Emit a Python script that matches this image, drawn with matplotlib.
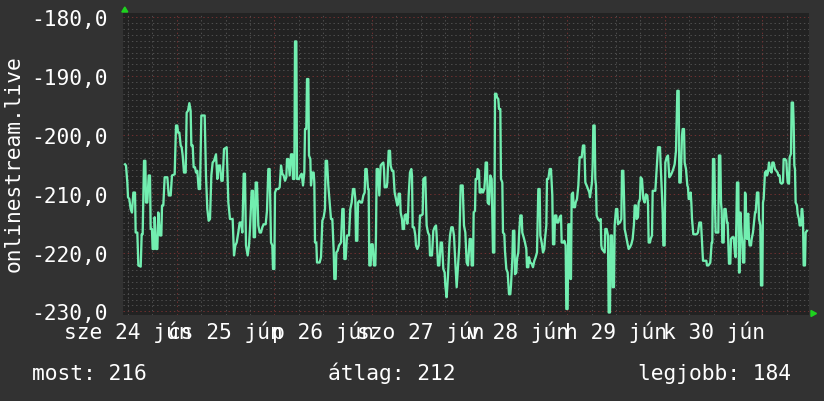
import matplotlib.pyplot as plt
from matplotlib.patches import Polygon

# hours since 25 Jun 00:00 and the value at each vertex
hours = [
    -12.71, -12.47, -12.14, -11.97, -11.65, -11.32, -10.99, -10.66, -10.25, -10.09, -9.68, -9.43, -8.85, -8.61,
    -8.37, -8.04, -7.71, -7.55, -7.22, -6.89, -6.57, -6.40, -6.08, -5.92, -5.58, -5.42, -5.09, -4.76, -4.52,
    -4.11, -3.78, -3.61, -3.29, -2.96, -2.30, -1.96, -1.48, -1.16, -0.50, -0.17, 0.15, 0.32, 0.65, 0.98, 1.22,
    1.47, 1.79, 2.21, 2.45, 2.78, 3.11, 3.43, 3.60, 3.93, 4.17, 4.50, 4.75, 5.07, 5.40, 5.73, 6.06, 6.88, 7.20,
    7.53, 7.86, 8.19, 8.52, 8.84, 9.17, 9.66, 9.99, 10.32, 10.65, 10.98, 11.30, 11.63, 12.29, 12.70, 13.10,
    13.76, 14.09, 14.42, 14.75,
    15.15, 15.48, 15.81, 16.14, 16.47, 16.79, 17.04, 17.45, 17.78, 18.02, 18.43, 18.76, 18.93, 19.25, 19.42,
    19.74, 20.07, 20.40, 20.73, 21.06, 21.38, 21.88, 22.20, 22.53, 22.86, 23.19, 23.51, 23.68, 24.01, 24.17,
    24.50, 24.99, 25.32, 25.65, 25.97, 26.30, 26.63, 26.96, 27.12, 27.45, 27.78, 28.10, 28.43, 28.60, 28.92,
    29.09, 29.42, 29.58, 30.07, 30.40, 30.73, 31.06, 31.38, 31.55, 31.87, 32.04, 32.37, 32.53, 32.86, 33.02,
    33.35, 33.68, 33.84, 34.01, 34.33, 34.50, 35.15, 35.48, 35.81, 36.14, 36.46, 36.63, 36.96, 37.28, 37.61,
    37.94, 38.27, 38.60, 38.76, 39.09, 39.25, 39.58, 39.91, 40.40, 40.73, 41.05, 41.22, 41.55, 41.87, 42.37,
    42.69, 43.02, 43.35, 43.68,
    43.92, 44.09, 44.41, 44.58, 44.91, 45.23, 45.56, 45.89, 46.22, 46.38, 46.71, 46.87, 47.04, 47.20, 47.36,
    47.69, 47.86, 48.19, 48.35, 48.51, 48.84, 49.00, 49.17, 49.50, 49.82, 50.15, 50.48, 50.81, 50.97, 51.14,
    51.63, 51.79, 52.12, 52.45, 52.61, 52.94, 53.27, 53.59, 53.92, 54.25, 54.41, 54.58, 54.90, 55.07, 55.40,
    55.56, 55.89, 56.05, 56.38, 56.71, 56.87, 57.04, 57.36, 57.69, 57.86, 58.02, 58.35, 58.68, 58.84, 59.17,
    59.50, 59.82, 60.15, 60.48, 60.64, 61.13, 61.46, 61.79, 62.12, 62.28, 62.77, 63.10, 63.43, 63.76, 63.92,
    64.25, 64.58, 64.91, 65.23, 65.56, 65.89, 66.05, 66.38, 66.71, 67.04, 67.20, 67.53, 67.86, 68.18, 68.51,
    68.84, 69.17, 69.49, 69.82, 70.32, 70.64, 70.97, 71.30, 71.63, 71.95,
    72.04, 72.36, 72.53, 72.86, 73.02, 73.35, 73.51, 73.84, 74.00, 74.33, 74.50, 74.82, 74.99, 75.31, 75.64,
    75.81, 75.97, 76.30, 76.46, 76.79, 76.95, 77.12, 77.45, 77.61, 77.77, 78.10, 78.27, 78.59, 78.76, 79.08,
    79.25, 79.58, 79.74, 80.07, 80.23, 80.56, 80.72, 81.05, 81.38, 81.54, 81.71, 82.03, 82.20, 82.53, 82.69,
    83.02, 83.18, 83.51, 83.67, 84.00, 84.17, 84.49, 84.82, 84.98, 85.31, 85.64, 85.97, 86.13, 86.46, 86.62,
    86.95, 87.28, 87.61, 87.94, 88.26, 88.59, 88.92, 89.25, 89.41, 89.74, 90.07, 90.39, 90.56, 90.89, 91.05,
    91.38, 91.71, 92.03, 92.36, 92.53, 92.85, 93.02, 93.34, 93.51, 93.84, 94.17, 94.49, 94.66, 95.15, 95.31,
    95.64, 95.80, 96.13, 96.29, 96.62, 96.79, 96.95, 97.12, 97.44, 97.61, 97.94, 98.10, 98.43, 98.76, 99.08,
    99.58, 99.90, 100.23,
    100.48, 100.80, 101.13, 101.46, 101.62, 101.95, 102.11, 102.28, 102.44, 102.77, 102.93, 103.10, 103.26,
    103.59, 103.92, 104.25, 104.41, 104.57, 104.90, 105.23, 105.39, 105.72, 106.05, 106.21, 106.54, 106.71,
    107.03, 107.20, 107.52, 107.69, 108.02, 108.34, 108.51, 108.84, 109.00, 109.33, 109.49, 109.82, 109.98,
    110.15, 110.48, 110.80, 111.13, 111.46, 111.79, 112.11, 112.44, 112.61, 112.93, 113.10, 113.43, 113.59,
    113.92, 114.08, 114.41, 114.57, 114.74, 115.07, 115.39, 115.72, 115.89, 116.05, 116.38, 116.54, 116.87,
    117.04, 117.69, 118.02, 118.35, 118.84, 119.00, 119.33, 119.49, 119.66, 119.98, 120.15, 120.48, 120.80,
    121.13, 121.46, 121.79, 122.11, 122.44, 122.77, 123.10, 123.43, 123.59, 123.92, 124.08, 124.25, 124.41,
    124.74, 124.90, 125.23, 125.56, 125.72, 125.89, 126.21, 126.38, 126.54, 126.71, 127.03, 127.85, 128.18,
    128.51,
    128.92, 129.08, 129.41, 130.23, 130.39, 130.72, 131.05, 131.21, 131.54, 131.70, 131.87, 132.19, 132.36,
    132.53, 133.18, 133.34, 133.67, 133.84, 134.00, 134.16, 134.49, 134.65, 134.98, 135.31, 135.47, 135.64,
    135.80, 136.13, 136.29, 136.62, 136.95, 137.28, 137.44, 137.60, 137.77, 138.10, 138.26, 138.42, 138.59,
    138.92, 139.08, 139.25, 139.57, 139.74, 139.90, 140.06, 140.23, 140.39, 140.56, 140.72, 140.88, 141.21,
    141.38, 141.70, 142.03, 142.20, 142.36, 142.69, 143.02, 143.18, 143.51, 143.67, 144.00, 144.16, 144.33,
    144.49, 144.65, 144.98, 145.14, 145.31, 145.47, 145.64, 145.96, 146.29, 146.46, 146.78, 147.11, 147.44,
    147.77, 147.93, 148.26, 148.42, 148.75, 149.08, 149.24, 149.57, 149.90, 150.06, 150.23, 150.56, 150.72,
    151.05, 151.21, 151.54, 151.70, 151.87, 152.03, 152.19, 152.52, 152.68, 153.01, 153.18, 153.50, 153.67,
    153.83, 154.00, 154.16, 154.49, 154.65, 154.98,
]
values = [
    -205.0, -205.2, -208.1, -210.6, -210.9, -212.6, -213.2, -209.8, -209.8, -216.6, -216.6, -222.2, -222.4, -216.9,
    -216.9, -204.4, -204.4, -211.5, -211.5, -206.9, -206.9, -216.0, -216.0, -219.4, -219.4, -214.0, -219.4, -219.4, -213.2,
    -217.1, -217.1, -212.0, -212.0, -207.2, -207.2, -210.3, -210.3, -206.9, -206.7, -198.4, -198.4, -199.6, -199.6, -201.8, -202.1,
    -203.5, -206.4, -206.4, -196.2, -195.9, -194.6, -195.9, -201.8, -201.8, -205.5, -205.5, -206.4, -206.1, -209.2, -209.2, -196.7, -196.7, -206.9,
    -212.6, -214.6, -214.3, -206.9, -204.7, -204.4, -203.3, -207.5, -205.2, -205.2, -207.8, -207.8, -202.4, -202.1, -211.5, -214.3,
    -214.3, -220.5, -218.8, -218.3,
    -216.6, -214.9, -214.9, -216.6, -206.6, -206.6, -218.8, -220.5, -218.8, -216.0, -209.5, -209.5, -217.4, -217.4, -208.1,
    -208.1, -215.4, -216.6, -216.6, -215.7, -215.2, -215.2, -212.9, -205.8, -205.8, -218.3, -218.8, -222.8, -222.8, -209.8,
    -209.2, -209.2, -208.9, -205.2, -206.6, -206.9, -207.8, -207.2, -204.1, -204.1, -206.9, -203.3, -203.3, -207.5, -207.5,
    -184.1, -184.1, -207.5, -207.5, -206.9, -206.6, -208.6, -206.4, -199.0, -199.0, -190.5, -190.5, -203.5, -204.1, -208.6,
    -206.4, -206.4, -208.1, -218.3, -218.3, -221.7, -221.7, -220.8, -214.6, -214.0, -212.6, -204.4, -204.4, -208.6, -211.5,
    -214.3, -214.3, -219.7, -224.5, -224.5, -220.0, -219.7, -218.8, -218.3, -212.6, -212.6, -221.1, -221.1, -217.1, -217.1,
    -212.6, -211.5, -209.2, -209.2,
    -210.9, -218.0, -218.0, -211.5, -211.2, -211.5, -211.5, -210.3, -209.8, -205.8, -205.8, -207.5, -209.2, -209.2, -222.2,
    -222.2, -218.6, -218.6, -220.5, -222.2, -222.2, -217.1, -205.8, -205.8, -210.3, -205.2, -204.9, -204.7, -205.8, -208.9,
    -208.9, -208.1, -202.7, -202.7, -205.2, -206.1, -206.1, -209.8, -210.9, -212.0, -211.5, -210.0, -210.0, -213.2, -214.3,
    -216.0, -216.0, -213.7, -213.5, -215.1, -214.0, -210.3, -206.4, -205.8, -206.9, -215.7, -215.7, -217.1, -218.8, -219.4,
    -218.8, -213.7, -213.7, -213.5, -207.5, -207.2, -215.4, -216.6, -217.1, -220.5, -220.5, -216.3, -215.7, -215.4, -217.1,
    -222.2, -222.2, -218.3, -218.3, -222.8, -223.4, -225.6, -227.6, -223.9, -218.8, -217.1, -215.7, -215.7, -217.1, -221.7,
    -225.9, -222.2, -218.8, -208.6, -208.6, -215.4, -216.6, -221.7, -222.2, -218.8,
    -217.7, -217.7, -222.2, -222.2, -213.2, -212.9, -207.5, -207.5, -205.8, -206.1, -209.8, -209.8, -209.2, -209.8, -209.2,
    -207.5, -204.7, -204.7, -211.5, -211.8, -209.5, -206.9, -207.5, -214.3, -220.0, -220.0, -193.0, -193.0, -193.6, -193.9,
    -195.6, -195.6, -207.5, -208.1, -216.6, -216.9, -219.7, -222.8, -223.4, -225.1, -227.1, -227.1, -225.6, -221.1, -216.3,
    -216.3, -223.7, -223.4, -221.1, -220.0, -217.1, -213.7, -213.7, -216.6, -217.4, -218.3, -219.4, -222.5, -222.5, -220.8,
    -221.7, -221.9, -222.5, -221.4, -220.8, -220.0, -209.2, -209.2, -217.1, -218.3, -220.0, -219.4, -217.7, -215.4, -207.5,
    -207.5, -205.8, -205.8, -210.3, -218.6, -218.6, -213.7, -213.7, -214.9, -214.9, -214.0, -213.7, -218.3, -218.3, -218.0,
    -218.8, -229.6, -229.6, -215.2, -215.2, -224.5, -224.5, -210.1, -209.8, -212.3, -212.3, -211.5, -210.9, -208.6, -203.8,
    -203.8, -201.8, -201.8,
    -208.1, -208.6, -209.2, -209.8, -210.6, -208.9, -208.1, -205.2, -198.4, -198.4, -207.5, -208.6, -213.7,
    -214.3, -214.6, -214.3, -218.8, -219.4, -219.7, -220.0, -216.0, -216.0, -217.1, -230.2, -230.2, -217.1,
    -217.1, -225.9, -225.9, -215.4, -212.6, -212.6, -215.2, -214.9, -214.9, -214.3, -206.1, -206.1, -210.3,
    -216.0, -217.1, -218.3, -219.4, -219.1, -218.6, -217.7, -215.2, -212.0, -212.0, -214.3, -214.0, -211.5,
    -210.9, -207.2, -207.5, -209.2, -210.9, -211.5, -210.1, -210.3, -211.8, -218.3, -218.3, -217.7, -217.1,
    -209.5, -209.5, -205.8, -202.1, -202.1, -205.2, -210.3, -213.2, -218.8, -218.8, -204.7, -203.8, -203.5,
    -207.2, -206.9, -206.4, -205.8, -205.0, -202.7, -192.5, -192.5, -208.1, -208.1, -204.4, -200.1, -199.0,
    -199.0, -204.7, -205.8, -208.6, -208.9, -210.9, -210.9, -209.8, -211.5, -214.3, -216.9, -216.9, -216.6,
    -214.9,
    -214.9, -217.1, -221.4, -221.4, -222.2, -222.2, -221.9, -221.7, -218.3, -218.3, -204.1, -204.1, -212.0,
    -216.6, -216.6, -203.5, -203.5, -211.5, -212.9, -218.3, -218.3, -212.6, -212.6, -214.9, -214.9, -218.3,
    -221.9, -221.9, -217.7, -217.4, -217.4, -220.3, -220.8, -215.4, -208.1, -208.1, -223.4, -223.4, -213.2,
    -217.1, -218.3, -221.7, -221.7, -209.8, -210.1, -215.4, -217.7, -213.7, -213.4, -217.7, -218.8, -218.8,
    -217.7, -216.6, -214.3, -213.2, -213.2, -209.8, -209.8, -214.3, -215.4, -225.6, -225.6, -211.5, -210.9,
    -208.6, -206.4, -206.1, -206.9, -206.6, -205.8, -204.7, -206.1, -206.4, -204.7, -204.7, -205.8, -206.1,
    -206.4, -206.9, -206.9, -208.1, -208.3, -208.1, -204.1, -204.1, -204.4, -206.4, -208.1, -208.3, -203.8,
    -203.2, -194.5, -194.5, -197.9, -205.2, -205.8, -211.5, -212.0, -213.4, -214.3, -215.4, -215.4, -212.6,
    -212.6, -214.3, -222.2, -222.2, -216.6, -216.3,
]

day_labels = ["sze 24 jún", "cs 25 jún", "p 26 jún", "szo 27 jún", "v 28 jún", "h 29 jún", "k 30 jún"]
label_hours = [-12, 12, 36, 60, 84, 108, 132]
y_ticks = [-230, -220, -210, -200, -190, -180]
y_title = "onlinestream.live"
summary = ["most: 216", "átlag: 212", "legjobb: 184"]

W, H = 824, 402
BG = "#323232"
CANVAS = "#222222"
LINE = "#72eeb0"
ARROW = "#1ed21e"
FONT = "DejaVu Sans Mono"
FS = 15.3


def px(x, y):
    return (x / W, 1 - y / H)


fig = plt.figure(figsize=(W / 100, H / 100), dpi=100, facecolor=BG)
ax = fig.add_axes([123.3 / W, 1 - 315.5 / H, 686 / W, 301.5 / H])
ax.set_facecolor(CANVAS)
ax.set_xlim(-13.13, 155.55)
ax.set_ylim(-230.54, -179.27)
for s in ax.spines.values():
    s.set_visible(False)

# grid, rrdtool style: grey minor, dark red major
for v in range(-230, -179):
    col = "#6e3030" if v % 10 == 0 else "#4e4e4e"
    ax.axhline(v, color=col, lw=0.72, dashes=(1.4, 2.8), zorder=1)
for h in range(-12, 156, 6):
    col = "#6e3030" if h % 24 == 0 else "#4e4e4e"
    ax.axvline(h, color=col, lw=0.72, dashes=(1.4, 2.8), zorder=1)

ax.plot(hours, values, color=LINE, lw=1.65, zorder=3)

ax.set_yticks(y_ticks)
ax.set_yticklabels([f"{v:.1f}".replace(".", ",") for v in y_ticks])
ax.set_xticks(label_hours)
ax.set_xticklabels(day_labels)
ax.tick_params(axis="y", length=0, pad=11, colors="white", labelsize=FS)
ax.tick_params(axis="x", length=0, pad=4, colors="white", labelsize=FS)
for lab in ax.get_xticklabels() + ax.get_yticklabels():
    lab.set_family(FONT)

fig.text(*px(14, 164), y_title, rotation=90, ha="center", va="center",
         color="white", fontsize=FS, family=FONT)
for txt, x in zip(summary, [32, 328, 638]):
    fig.text(*px(x, 380), txt, ha="left", va="baseline", color="white",
             fontsize=FS, family=FONT)

# axis arrows
fig.patches.append(Polygon([px(124.8, 8.0), px(121.8, 13.0), px(127.8, 13.0)],
                           closed=True, transform=fig.transFigure, color=ARROW))
fig.patches.append(Polygon([px(816.5, 314.5), px(811.0, 311.5), px(811.0, 317.5)],
                           closed=True, transform=fig.transFigure, color=ARROW))

fig.savefig("out.png", dpi=100, facecolor=BG)
